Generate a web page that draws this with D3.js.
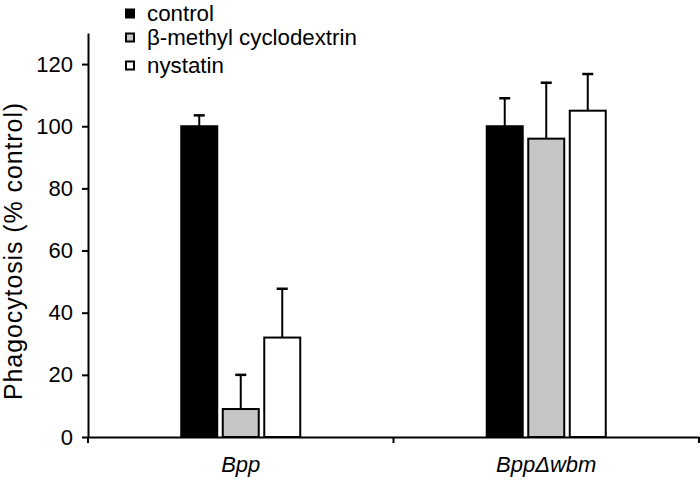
<!DOCTYPE html>
<html>
<head>
<meta charset="utf-8">
<script src="https://cdn.jsdelivr.net/npm/d3@7"></script>
<style>
  html, body { margin: 0; padding: 0; background: #fff; }
  svg { display: block; font-family: Arial, "Liberation Sans", Helvetica, sans-serif; }
</style>
</head>
<body>
<svg id="chart" width="700" height="481"></svg>
<script>
const categories = ["Bpp", "BppΔwbm"];
const seriesNames = ["control", "β-methyl cyclodextrin", "nystatin"];
const seriesColors = ["#000000", "#c6c6c6", "#ffffff"];
const controlValues = [100, 100];
const mbcdValues = [9, 96];
const nystatinValues = [32, 105];
const controlErrors = [3.5, 9];
const mbcdErrors = [11, 18];
const nystatinErrors = [15.7, 11.8];
const yTicks = [0, 20, 40, 60, 80, 100, 120];
const yLabel = "Phagocytosis (% control)";

const values = [controlValues, mbcdValues, nystatinValues];
const errors = [controlErrors, mbcdErrors, nystatinErrors];

const svg = d3.select("#chart");
const mLeft = 88, mRight = 699, mTop = 33, mBottom = 437;

const x0 = d3.scaleBand().domain(categories).range([mLeft, mRight]).padding(0);
const x1 = d3.scaleBand().domain(d3.range(seriesNames.length)).range([0, 119]).paddingInner(0.133);
const y = d3.scaleLinear().domain([0, 130]).range([mBottom, mTop]);

const data = [];
categories.forEach((c, ci) => {
  seriesNames.forEach((s, si) => {
    data.push({ c, si, v: values[si][ci], e: errors[si][ci] });
  });
});

const groupOffset = (x0.bandwidth() - 119) / 2;
const barX = d => x0(d.c) + groupOffset + x1(d.si);

// error bars
const eb = svg.append("g");
data.forEach(d => {
  const cx = barX(d) + x1.bandwidth() / 2;
  eb.append("line").attr("x1", cx).attr("x2", cx)
    .attr("y1", y(d.v)).attr("y2", y(d.v + d.e))
    .attr("stroke", "#000").attr("stroke-width", 2);
  eb.append("line").attr("x1", cx - 5.5).attr("x2", cx + 5.5)
    .attr("y1", y(d.v + d.e)).attr("y2", y(d.v + d.e))
    .attr("stroke", "#000").attr("stroke-width", 2.5);
});

// bars
svg.append("g").selectAll("rect").data(data).join("rect")
  .attr("x", d => barX(d))
  .attr("y", d => y(d.v))
  .attr("width", x1.bandwidth())
  .attr("height", d => y(0) - y(d.v))
  .attr("fill", d => seriesColors[d.si])
  .attr("stroke", "#000")
  .attr("stroke-width", 2);

// y axis
const yAxis = svg.append("g").attr("transform", `translate(${mLeft},0)`)
  .call(d3.axisLeft(y).tickValues(yTicks).tickSize(6).tickPadding(9).tickSizeOuter(0));
yAxis.select(".domain").attr("stroke-width", 2);
yAxis.selectAll(".tick line").attr("stroke-width", 2);
yAxis.selectAll("text").attr("font-size", 22).attr("font-family", "Arial, 'Liberation Sans', sans-serif").attr("fill", "#000");

// x axis
const xAxis = svg.append("g").attr("transform", `translate(0,${mBottom})`)
  .call(d3.axisBottom(x0).tickSize(0).tickPadding(19).tickSizeOuter(0));
xAxis.select(".domain").attr("stroke-width", 2);
xAxis.selectAll("text").attr("font-size", 22).attr("font-style", "italic")
  .attr("font-family", "Arial, 'Liberation Sans', sans-serif").attr("fill", "#000");
const boundaries = categories.map(c => x0(c)).concat([x0.range()[1]]);
xAxis.selectAll(".bound").data(boundaries).join("line")
  .attr("class", "bound")
  .attr("x1", d => d).attr("x2", d => d)
  .attr("y1", 0).attr("y2", 6)
  .attr("stroke", "#000").attr("stroke-width", 2);

// y label
svg.append("text")
  .attr("transform", `translate(22,251) rotate(-90)`)
  .attr("text-anchor", "middle")
  .attr("font-size", 25)
  .attr("letter-spacing", 0.9)
  .attr("fill", "#000")
  .text(yLabel);

// legend
const legendBaseline = [20.5, 44.5, 72.5];
const lg = svg.append("g");
seriesNames.forEach((s, i) => {
  lg.append("rect").attr("x", 126).attr("y", legendBaseline[i] - 11)
    .attr("width", 8).attr("height", 8)
    .attr("fill", seriesColors[i]).attr("stroke", "#000").attr("stroke-width", 2);
  lg.append("text").attr("x", 147).attr("y", legendBaseline[i])
    .attr("font-size", 22.3).attr("fill", "#000").text(s);
});
</script>
</body>
</html>
